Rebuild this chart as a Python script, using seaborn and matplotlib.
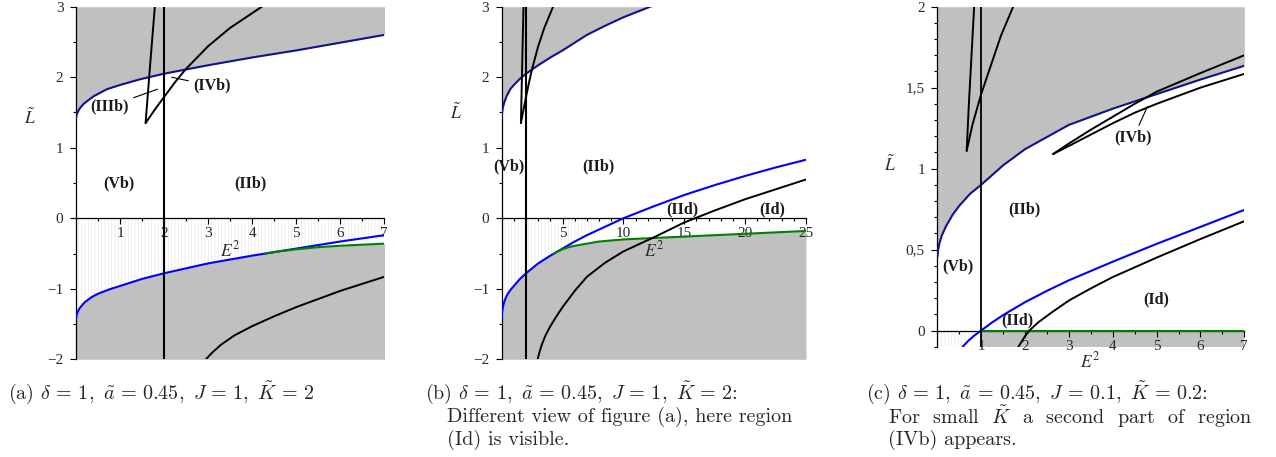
import numpy as np
import matplotlib
matplotlib.use("Agg")
import matplotlib.pyplot as plt
import seaborn as sns
from matplotlib.ticker import FixedLocator, MultipleLocator, FixedFormatter

# ---------------- data: K~=2, J=1 (panels a and b) ----------------
ub2_x = [0, 0.02, 0.05, 0.1, 0.17, 0.25, 0.4, 0.7, 1.0, 1.45, 2, 3, 4, 5, 6, 7, 8.5, 10, 12.5]
ub2_y = [1.42, 1.48, 1.52, 1.57, 1.62, 1.66, 1.73, 1.83, 1.89, 1.97, 2.05, 2.17, 2.28, 2.38, 2.49, 2.60, 2.73, 2.85, 3.02]
lb2_x = [0, 0.02, 0.05, 0.1, 0.2, 0.35, 0.5, 0.75, 1, 1.5, 2, 3, 4, 4.5, 5, 6, 7, 8.5, 10, 12.5, 15, 17.5, 20, 22.5, 25]
lb2_y = [-1.42, -1.36, -1.31, -1.26, -1.19, -1.12, -1.07, -1.01, -0.96, -0.86, -0.78, -0.64, -0.53, -0.48,
         -0.43, -0.33, -0.24, -0.12, 0.0, 0.17, 0.33, 0.47, 0.60, 0.72, 0.83]
gr2_x = [4.3, 4.6, 5, 5.5, 6, 7, 8, 10, 12.5, 15, 20, 25]
gr2_y = [-0.50, -0.47, -0.44, -0.41, -0.39, -0.36, -0.33, -0.30, -0.28, -0.26, -0.22, -0.18]
bk2_x = [2.95, 3.1, 3.3, 3.6, 4, 4.5, 5, 6, 7, 8.5, 10, 12.5, 15, 17.5, 20, 22.5, 25]
bk2_y = [-2.0, -1.90, -1.79, -1.66, -1.53, -1.39, -1.26, -1.03, -0.83, -0.63, -0.47, -0.27, -0.06, 0.11, 0.27, 0.41, 0.55]
cl2_x = [1.58, 1.68, 1.79]
cl2_y = [1.35, 2.15, 3.0]
cr2_x = [1.58, 1.8, 2.0, 2.25, 2.5, 3.0, 3.5, 4.22]
cr2_y = [1.35, 1.55, 1.72, 1.93, 2.12, 2.44, 2.70, 3.0]
vline2_x = 2.0

# ---------------- data: K~=0.2, J=0.1 (panel c) ----------------
ubc_x = [0, 0.02, 0.05, 0.1, 0.2, 0.35, 0.5, 0.75, 1, 1.5, 2, 3, 4, 5, 6, 7]
ubc_y = [0.45, 0.50, 0.54, 0.585, 0.645, 0.715, 0.77, 0.845, 0.90, 1.02, 1.12, 1.27, 1.37, 1.46, 1.55, 1.635]
lbc_x = [0.58, 0.7, 0.85, 1, 1.25, 1.5, 2, 2.5, 3, 4, 5, 6, 7]
lbc_y = [-0.1, -0.065, -0.03, 0.0, 0.05, 0.095, 0.175, 0.245, 0.31, 0.425, 0.535, 0.64, 0.745]
grc_x = [1, 7]
grc_y = [0.0, 0.0]
bkc_x = [1.85, 2.0, 2.1, 2.3, 2.6, 3, 3.5, 4, 5, 6, 7]
bkc_y = [-0.1, -0.035, 0.0, 0.05, 0.11, 0.185, 0.26, 0.33, 0.45, 0.565, 0.675]
clc_x = [0.67, 0.72, 0.78, 0.84]
clc_y = [1.11, 1.40, 1.70, 2.0]
crc_x = [0.67, 0.8, 1.0, 1.2, 1.45, 1.73]
crc_y = [1.11, 1.27, 1.46, 1.62, 1.82, 2.0]
ivu_x = [2.64, 3, 3.5, 4, 4.5, 4.77, 5, 6, 7]
ivu_y = [1.09, 1.155, 1.24, 1.32, 1.40, 1.44, 1.475, 1.59, 1.70]
ivl_x = [2.64, 3, 3.5, 4, 4.5, 5, 6, 7]
ivl_y = [1.09, 1.14, 1.21, 1.28, 1.345, 1.40, 1.50, 1.585]
vlinec_x = 1.0

# ---------------- tick labels ----------------
xt_a = [1, 2, 3, 4, 5, 6, 7]
xt_b = [5, 10, 15, 20, 25]
xt_c = [1, 2, 3, 4, 5, 6, 7]
yt_ab = [-2, -1, 0, 1, 2, 3]
yt_ab_lbl = ["\u22122", "\u22121", "0", "1", "2", "3"]
yt_c = [0, 0.5, 1, 1.5, 2]
yt_c_lbl = ["0", "0,5", "1", "1,5", "2"]

sns.set_theme(style="white")
plt.rcParams["font.family"] = ["Liberation Serif", "DejaVu Serif"]
plt.rcParams["hatch.linewidth"] = 0.6
plt.rcParams["hatch.color"] = "#eaeaea"

GRAY = "#c0c0c0"
NAVY = "#12128c"
BLUE = "#0000ff"
GREEN = "#008000"
HATCH = "#eaeaea"
LBLC = "#2a2a2a"

fig = plt.figure(figsize=(12.76, 4.57), dpi=100)
axA = fig.add_axes([76 / 1276, (457 - 359.3) / 457, 308.3 / 1276, 352.6 / 457])
axB = fig.add_axes([501.7 / 1276, (457 - 359.3) / 457, 304.3 / 1276, 352.6 / 457])
axC = fig.add_axes([937.3 / 1276, (457 - 346.7) / 457, 307 / 1276, 340 / 457])


def line(ax, x, y, color, lw):
    sns.lineplot(x=x, y=y, ax=ax, color=color, linewidth=lw, sort=False,
                 estimator=None, legend=False, zorder=3)


def style(ax, xlim, ylim, xt, xminor, yt, ylbl, yminor):
    ax.set_xlim(*xlim)
    ax.set_ylim(*ylim)
    for s in ["top", "right"]:
        ax.spines[s].set_visible(False)
    ax.spines["bottom"].set_position(("data", 0))
    ax.spines["left"].set_position(("data", 0))
    for s in ["bottom", "left"]:
        ax.spines[s].set_color("black")
        ax.spines[s].set_linewidth(0.9)
        ax.spines[s].set_zorder(2.5)
    ax.xaxis.set_major_locator(FixedLocator(xt))
    ax.xaxis.set_major_formatter(FixedFormatter([str(v) for v in xt]))
    ax.xaxis.set_minor_locator(MultipleLocator(xminor))
    ax.yaxis.set_major_locator(FixedLocator(yt))
    ax.yaxis.set_major_formatter(FixedFormatter(ylbl))
    ax.yaxis.set_minor_locator(MultipleLocator(yminor))
    ax.tick_params(which="both", direction="out", bottom=True, left=True,
                   colors="black", width=0.8, labelcolor=LBLC)
    ax.tick_params(which="major", length=4, labelsize=11, pad=2.5)
    ax.tick_params(which="minor", length=2.5)
    ax.tick_params(axis="y", which="major", pad=5)
    ax.set_xlabel("")
    ax.set_ylabel("")
    ax.patch.set_facecolor("white")


def lab(ax, x, y, s):
    ax.text(x, y, s, ha="center", va="center", fontsize=11.5, fontweight="bold", zorder=5,
            color="#1a1a1a")


def lead(ax, s, xy, xytext):
    ax.annotate(s, xy=xy, xytext=xytext, ha="center", va="center", fontsize=11.5,
                fontweight="bold", zorder=5, color="#1a1a1a",
                arrowprops=dict(arrowstyle="-", lw=0.8, color="black", shrinkA=1, shrinkB=0))


# ---------- panels a and b (same curves, different views) ----------
bd_x = [x for x in lb2_x if x < gr2_x[0]] + gr2_x
bd_y = [y for x, y in zip(lb2_x, lb2_y) if x < gr2_x[0]] + gr2_y

for ax, xlim, xt, xminor in [(axA, (0, 7), xt_a, 0.5), (axB, (0, 25), xt_b, 1)]:
    ylim = (-2, 3)
    ax.fill_between(ub2_x, ub2_y, ylim[1], color=GRAY, lw=0, zorder=0)
    ax.fill_between(bd_x, ylim[0], bd_y, color=GRAY, lw=0, zorder=0)
    lbx = np.array(lb2_x)
    lby = np.array(lb2_y)
    ax.fill_between(lbx, lby, 0, where=lby <= 0, interpolate=True, hatch="|||||",
                    facecolor="none", edgecolor=HATCH, lw=0, zorder=0.5)
    line(ax, ub2_x, ub2_y, NAVY, 1.5)
    line(ax, lb2_x, lb2_y, BLUE, 1.5)
    line(ax, gr2_x, gr2_y, GREEN, 1.5)
    line(ax, bk2_x, bk2_y, "black", 1.4)
    line(ax, cl2_x, cl2_y, "black", 1.4)
    line(ax, cr2_x, cr2_y, "black", 1.4)
    ax.axvline(vline2_x, color="black", lw=1.5, zorder=3)
    style(ax, xlim, ylim, xt, xminor, yt_ab, yt_ab_lbl, 0.5)

axA.text(3.5, -0.45, r"$E^2$", math_fontfamily="stix", fontsize=12.5, ha="center", va="center", color=LBLC)
axB.text(12.5, -0.45, r"$E^2$", math_fontfamily="stix", fontsize=12.5, ha="center", va="center", color=LBLC)

lab(axA, 0.98, 0.5, "(Vb)")
lab(axA, 3.97, 0.5, "(IIb)")
lead(axA, "(IIIb)", (1.85, 1.83), (0.77, 1.59))
lead(axA, "(IVb)", (2.17, 2.0), (3.08, 1.88))

lab(axB, 0.55, 0.73, "(Vb)")
lab(axB, 7.95, 0.73, "(IIb)")
lab(axB, 14.85, 0.13, "(IId)")
lab(axB, 22.2, 0.13, "(Id)")

# ---------- panel c ----------
ylimc = (-0.1, 2)
axC.fill_between(ubc_x, ubc_y, ylimc[1], color=GRAY, lw=0, zorder=0)
axC.fill_between(grc_x, ylimc[0], grc_y, color=GRAY, lw=0, zorder=0)
hc_x = [0] + [x for x in lbc_x if x <= vlinec_x]
hc_y = [ylimc[0]] + [y for x, y in zip(lbc_x, lbc_y) if x <= vlinec_x]
axC.fill_between(hc_x, hc_y, 0, hatch="|||||", facecolor="none", edgecolor=HATCH, lw=0, zorder=0.5)
line(axC, ubc_x, ubc_y, NAVY, 1.5)
line(axC, lbc_x, lbc_y, BLUE, 1.5)
line(axC, grc_x, grc_y, GREEN, 1.5)
line(axC, bkc_x, bkc_y, "black", 1.4)
line(axC, clc_x, clc_y, "black", 1.4)
line(axC, crc_x, crc_y, "black", 1.4)
line(axC, ivu_x, ivu_y, "black", 1.4)
line(axC, ivl_x, ivl_y, "black", 1.4)
axC.axvline(vlinec_x, color="black", lw=1.3, zorder=3)
style(axC, (0, 7), ylimc, xt_c, 0.5, yt_c, yt_c_lbl, 0.1)
axC.text(3.48, -0.19, r"$E^2$", math_fontfamily="stix", fontsize=12.5, ha="center", va="center",
         color=LBLC, clip_on=False)

lab(axC, 1.98, 0.745, "(IIb)")
lab(axC, 0.48, 0.397, "(Vb)")
lab(axC, 1.82, 0.062, "(IId)")
lab(axC, 4.98, 0.19, "(Id)")
lead(axC, "(IVb)", (4.79, 1.383), (4.47, 1.19))

# y labels (L tilde)
for ax, (lx, ly) in [(axA, (-0.149, 0.684)), (axB, (-0.15, 0.70)), (axC, (-0.154, 0.534))]:
    ax.text(lx, ly, r"$\tilde{L}$", transform=ax.transAxes, math_fontfamily="stix",
            fontsize=12.5, ha="center", va="center", color=LBLC)

# ---------- captions ----------
capkw = dict(fontfamily="cmr10", math_fontfamily="cm", fontsize=14.5, va="center", ha="left")
y1, y2, y3 = (457 - 393) / 457, (457 - 417) / 457, (457 - 440) / 457
fig.text(8 / 1276, y1, r"(a) $\delta\,=\,1,\ \tilde{a}\,=\,0.45,\ J\,=\,1,\ \tilde{K}\,=\,2$", **capkw)
fig.text(425 / 1276, y1, r"(b) $\delta\,=\,1,\ \tilde{a}\,=\,0.45,\ J\,=\,1,\ \tilde{K}\,=\,2$:", **capkw)
fig.text(447 / 1276, y2, "Different view of figure (a), here region", **capkw)
fig.text(447 / 1276, y3, "(Id) is visible.", **capkw)
fig.text(866 / 1276, y1, r"(c) $\delta\,=\,1,\ \tilde{a}\,=\,0.45,\ J\,=\,0.1,\ \tilde{K}\,=\,0.2$:", **capkw)
fig.text(888 / 1276, y2, r"For  small  $\tilde{K}$  a  second  part  of  region", **capkw)
fig.text(888 / 1276, y3, "(IVb) appears.", **capkw)

fig.savefig("out.png", dpi=100)
